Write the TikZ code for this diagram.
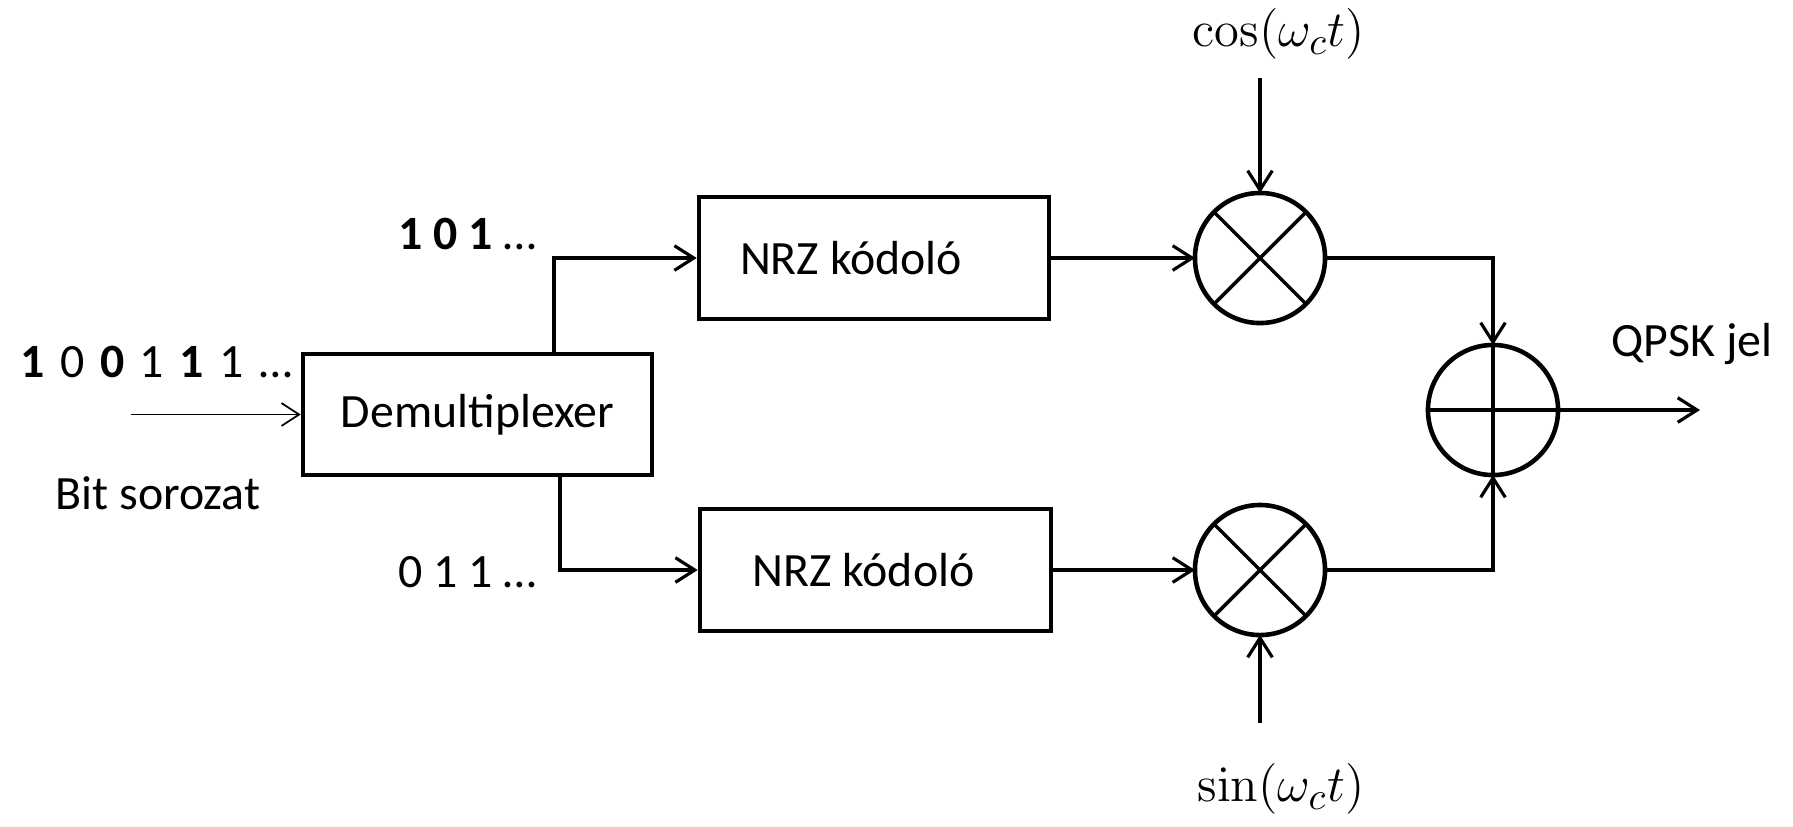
\documentclass[tikz,border=0pt]{standalone}
\usepackage[no-math]{fontspec}
\setmainfont{Carlito}
\usetikzlibrary{arrows.meta,calc}
\tikzset{
  blk/.style={draw, line width=1.25pt, minimum width=3.5cm, minimum height=1.22cm, inner sep=0pt},
  circ/.style={draw, circle, line width=1.3pt, minimum size=1.3cm, inner sep=0pt, outer sep=0pt},
  conn/.style={line width=0.9pt},
  arr/.style={conn, -{Straight Barb[length=5.5pt,width=7pt,line width=0.9pt]}},
  thinarr/.style={line width=0.45pt, -{Straight Barb[length=5pt,width=6.5pt,line width=0.5pt]}},
  lbl/.style={inner sep=0pt, font=\fontsize{13.6}{16}\selectfont},
  mlbl/.style={inner sep=0pt, font=\fontsize{15}{18}\selectfont},
}
\begin{document}
\begin{tikzpicture}[x=0.01cm,y=-0.01cm]
\useasboundingbox (0,0) rectangle (1793,826);
% blocks
\node[blk, minimum width=3.49cm, minimum height=1.21cm, font=\fontsize{13.6}{16}\selectfont] (demux) at (477.5,414.5) {Demultiplexer};
\node[blk, font=\fontsize{13.6}{16}\selectfont] (nrz1) at (874,258) {\hspace{-0.46cm}NRZ kódoló};
\node[blk, minimum width=3.51cm, font=\fontsize{13.6}{16}\selectfont] (nrz2) at (875.5,570) {\hspace{-0.24cm}NRZ kódoló};
\node[circ] (m1) at (1260,258) {};
\node[circ] (m2) at (1260,570) {};
\node[circ] (add) at (1493,410) {};
\draw[line width=1pt] (m1.north east) -- (m1.south west) (m1.north west) -- (m1.south east);
\draw[line width=1pt] (m2.north east) -- (m2.south west) (m2.north west) -- (m2.south east);
\draw[line width=1.1pt] (add.north) -- (add.south) (add.west) -- (add.east);
% labels
\node[lbl, anchor=west] (bits) at (20,362) {\spaceskip=0.155cm {\bfseries 1} 0 {\bfseries 0} 1 {\bfseries 1} 1 …};
\node[lbl] (bitsor) at (158,493) {Bit sorozat};
\node[lbl, anchor=east] (up) at (537,234) {{\bfseries 1 0 1} …};
\node[lbl, anchor=east] (lo) at (537,572) {0 1 1 …};
\node[lbl] (qpsk) at (1692,344) {QPSK jel};
\node[mlbl] (cos) at (1279,34) {$\cos(\omega_c t)$};
\node[mlbl] (sin) at (1281,789) {$\sin(\omega_c t)$};
% coordinates
\coordinate (in) at (131,414.5);
\coordinate (costop) at (1260,78);
\coordinate (sinbot) at (1260,723);
\coordinate (out) at (1700,410);
% connectors
\draw[thinarr] (in) -- (demux.west);
\draw[arr] ($(demux.north)+(76.5,0)$) |- (nrz1.west);
\draw[arr] ($(demux.south)+(82.5,0)$) |- (nrz2.west);
\draw[arr] (nrz1.east) -- (m1.west);
\draw[arr] (nrz2.east) -- (m2.west);
\draw[arr] (costop) -- (m1.north);
\draw[arr] (sinbot) -- (m2.south);
\draw[arr] (m1.east) -| (add.north);
\draw[arr] (m2.east) -| (add.south);
\draw[arr] (add.east) -- (out);
\end{tikzpicture}
\end{document}
